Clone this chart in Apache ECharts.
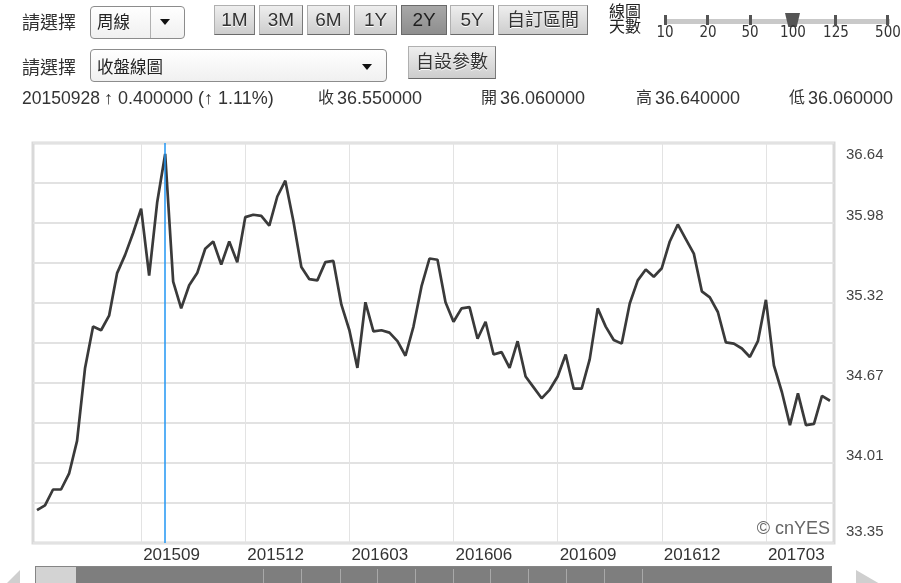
<!DOCTYPE html>
<html><head><meta charset="utf-8">
<script src="https://cdn.jsdelivr.net/npm/echarts@6/dist/echarts.min.js"></script>
<style>
html,body{margin:0;padding:0;width:901px;height:583px;overflow:hidden;background:#fff;}
body{position:relative;font-family:"Liberation Sans",Arial,"Noto Sans CJK TC",sans-serif;color:#333;}
#chart{position:absolute;left:0;top:0;width:901px;height:583px;}
.abs{position:absolute;white-space:nowrap;}
.lbl{font-size:18px;line-height:20px;color:#333;}
.sel{position:absolute;border:1px solid #8c8c8c;border-radius:4px;background:linear-gradient(#ffffff,#f0f0f0);box-sizing:border-box;}
.btn{position:absolute;box-sizing:border-box;border:1px solid #b0b0b0;border-right-color:#7a7a7a;border-bottom-color:#6a6a6a;background:linear-gradient(#eeeeee,#cdcdcd);font-size:19px;line-height:28px;height:30px;top:5px;text-align:center;color:#333;text-shadow:0 1px 0 #fff;}
.btn.cj{font-size:18px;}
.btn.on{background:linear-gradient(#a8a8a8,#8e8e8e);color:#1e1e1e;text-shadow:none;border-color:#6a6a6a;}
.tri{position:absolute;width:0;height:0;border-left:5px solid transparent;border-right:5px solid transparent;border-top:6px solid #111;}
.tk{position:absolute;top:15px;width:3px;height:10px;background:#555;}
.tl{position:absolute;top:24px;width:40px;text-align:center;font-family:"Liberation Sans Narrow","DejaVu Sans Condensed","Liberation Sans",sans-serif;font-size:15px;line-height:16px;color:#333;}
.dv{position:absolute;top:569px;width:1px;height:16px;background:#a9a9a9;}
.r3{position:absolute;top:88px;font-size:18px;line-height:20px;color:#333;white-space:nowrap;}
.r3c{position:absolute;top:88px;font-size:16px;line-height:20px;color:#333;white-space:nowrap;}
</style></head>
<body>
<div id="chart"></div>

<!-- row 1 -->
<div class="abs lbl" style="left:22px;top:13px">請選擇</div>
<div class="sel" style="left:90px;top:6px;width:95px;height:33px"></div>
<div class="abs" style="left:150px;top:7px;width:1px;height:31px;background:#b0b0b0"></div>
<div class="abs" style="left:97px;top:12px;font-size:16.5px;line-height:20px;color:#222">周線</div>
<div class="tri" style="left:160px;top:19px"></div>

<div class="btn" style="left:214px;width:41px">1M</div>
<div class="btn" style="left:259px;width:44px">3M</div>
<div class="btn" style="left:307px;width:43px">6M</div>
<div class="btn" style="left:354px;width:43px">1Y</div>
<div class="btn on" style="left:401px;width:46px">2Y</div>
<div class="btn" style="left:450px;width:44px">5Y</div>
<div class="btn cj" style="left:498px;width:90px">自訂區間</div>

<!-- slider -->
<div class="abs" style="left:609px;top:4px;font-size:16px;line-height:15px;color:#222">線圖</div>
<div class="abs" style="left:609px;top:19px;font-size:16px;line-height:15px;color:#222">天數</div>
<div class="abs" style="left:664px;top:19px;width:226px;height:5px;background:#c9c9c9"></div>
<div class="tk" style="left:664px"></div>
<div class="tk" style="left:706px"></div>
<div class="tk" style="left:749px"></div>
<div class="tk" style="left:791px"></div>
<div class="tk" style="left:834px"></div>
<div class="tk" style="left:886px"></div>
<div class="abs" style="left:785px;top:13px;width:15px;height:14px;background:#555;clip-path:polygon(0 0,100% 0,78% 100%,22% 100%)"></div>
<div class="tl" style="left:645px">10</div>
<div class="tl" style="left:688px">20</div>
<div class="tl" style="left:730px">50</div>
<div class="tl" style="left:773px">100</div>
<div class="tl" style="left:816px">125</div>
<div class="tl" style="left:868px">500</div>

<!-- row 2 -->
<div class="abs lbl" style="left:22px;top:58px">請選擇</div>
<div class="sel" style="left:90px;top:49px;width:297px;height:33px"></div>
<div class="abs" style="left:97px;top:57px;font-size:16.5px;line-height:20px;color:#222">收盤線圖</div>
<div class="tri" style="left:362px;top:64px"></div>
<div class="btn cj" style="left:408px;top:46px;width:88px;height:33px;line-height:31px">自設參數</div>

<!-- row 3 -->
<div class="r3" style="left:22px;font-size:17.5px">20150928</div>
<div class="r3" style="left:104px">↑ 0.400000 (↑ 1.11%)</div>
<div class="r3c" style="left:318px">收</div><div class="r3" style="left:337px">36.550000</div>
<div class="r3c" style="left:481px">開</div><div class="r3" style="left:500px">36.060000</div>
<div class="r3c" style="left:636px">高</div><div class="r3" style="left:655px">36.640000</div>
<div class="r3c" style="left:789px">低</div><div class="r3" style="left:808px">36.060000</div>

<!-- bottom scroller -->
<div class="abs" style="left:35px;top:566px;width:797px;height:22px;border:1px solid #858585;background:#7e7e7e;box-sizing:border-box"></div>
<div class="abs" style="left:36px;top:567px;width:40px;height:20px;background:#d3d3d3"></div>
<div class="dv" style="left:263px"></div><div class="dv" style="left:301px"></div><div class="dv" style="left:340px"></div>
<div class="dv" style="left:377px"></div><div class="dv" style="left:415px"></div><div class="dv" style="left:453px"></div>
<div class="dv" style="left:490px"></div><div class="dv" style="left:528px"></div><div class="dv" style="left:566px"></div>
<div class="dv" style="left:604px"></div><div class="dv" style="left:642px"></div>
<div class="abs" style="left:6px;top:570px;width:14px;height:28px;background:#cfcfcf;clip-path:polygon(100% 0,100% 100%,0 50%)"></div>
<div class="abs" style="left:856px;top:570px;width:24px;height:28px;background:#cfcfcf;clip-path:polygon(0 0,0 100%,100% 50%)"></div>

<script>
// ---- data ----
const dates = [
 '20150608','20150615','20150622','20150629','20150706','20150713','20150720','20150727','20150803','20150810',
 '20150817','20150824','20150831','20150907','20150914','20150921','20150928','20151005','20151012','20151019',
 '20151026','20151102','20151109','20151116','20151123','20151130','20151207','20151214','20151221','20151228',
 '20160104','20160111','20160118','20160125','20160201','20160208','20160215','20160222','20160229','20160307',
 '20160314','20160321','20160328','20160404','20160411','20160418','20160425','20160502','20160509','20160516',
 '20160523','20160530','20160606','20160613','20160620','20160627','20160704','20160711','20160718','20160725',
 '20160801','20160808','20160815','20160822','20160829','20160905','20160912','20160919','20160926','20161003',
 '20161010','20161017','20161024','20161031','20161107','20161114','20161121','20161128','20161205','20161212',
 '20161219','20161226','20170102','20170109','20170116','20170123','20170130','20170206','20170213','20170220',
 '20170227','20170306','20170313','20170320','20170327','20170403','20170410','20170417','20170424','20170501'
];
const closeValues = [
 33.62,33.66,33.79,33.79,33.92,34.19,34.79,35.13,35.10,35.22,
 35.57,35.72,35.90,36.10,35.55,36.15,36.55,35.50,35.28,35.47,
 35.57,35.77,35.83,35.64,35.83,35.66,36.03,36.05,36.04,35.96,
 36.20,36.33,36.00,35.62,35.52,35.51,35.66,35.67,35.31,35.10,
 34.79,35.33,35.09,35.10,35.08,35.01,34.89,35.13,35.46,35.69,
 35.68,35.33,35.17,35.28,35.29,35.03,35.17,34.90,34.92,34.79,
 35.01,34.72,34.63,34.54,34.61,34.72,34.90,34.62,34.62,34.86,
 35.28,35.13,35.02,34.99,35.32,35.51,35.60,35.54,35.61,35.83,
 35.97,35.85,35.73,35.42,35.37,35.25,35.00,34.99,34.95,34.88,
 35.01,35.35,34.81,34.59,34.32,34.58,34.32,34.33,34.56,34.52
];
const quarterTicks = ['20150907','20151207','20160307','20160606','20160905','20161205','20170306'];
const yMin = 33.35, yMax = 36.64, yStep = 0.329;
const markedDate = '20150928';

// ---- chart ----
const FONT = '"Liberation Sans", Arial, sans-serif';
const yIdx = v => Math.round((v - yMin) / yStep);
const isQuarter = (i, v) => quarterTicks.indexOf(v) >= 0;
const baseY = {
  type: 'value', position: 'right', min: yMin, max: yMax, interval: yStep,
  axisLine: {show: false}, axisTick: {show: false}, splitLine: {show: false}
};
const chart = echarts.init(document.getElementById('chart'), null, {renderer: 'canvas'});
chart.setOption({
  animation: false,
  grid: {left: 33, right: 67, top: 143, bottom: 40, show: true, borderColor: '#d9d9d9', borderWidth: 3},
  xAxis: {
    type: 'category', data: dates, boundaryGap: true,
    axisLine: {show: false}, axisTick: {show: false},
    axisLabel: {interval: isQuarter, formatter: v => v.slice(0, 6), align: 'left', margin: 4,
      padding: [0, 0, 0, 2], color: '#333', fontSize: 17, fontFamily: FONT},
    splitLine: {show: true, interval: isQuarter, alignWithLabel: true, lineStyle: {color: '#e3e3e3', width: 1}}
  },
  yAxis: [
    Object.assign({}, baseY, {
      splitLine: {show: true, lineStyle: {color: '#e2e2e2', width: 2}},
      axisLabel: {margin: 12, color: '#444', fontSize: 15, fontFamily: FONT, verticalAlign: 'bottom', lineHeight: 15,
        formatter: v => { const k = yIdx(v); return (k % 2 === 0 && k > 0 && k < 10) ? v.toFixed(2) : ''; }}
    }),
    Object.assign({}, baseY, {
      axisLabel: {margin: 12, color: '#444', fontSize: 15, fontFamily: FONT, verticalAlign: 'top', lineHeight: 15,
        padding: [4, 0, 0, 0], formatter: v => yIdx(v) === 10 ? v.toFixed(2) : ''}
    }),
    Object.assign({}, baseY, {
      axisLabel: {margin: 12, color: '#444', fontSize: 15, fontFamily: FONT, verticalAlign: 'bottom', lineHeight: 15,
        padding: [0, 0, 4, 0], formatter: v => yIdx(v) === 0 ? v.toFixed(2) : ''}
    })
  ],
  series: [{
    type: 'line', data: closeValues, yAxisIndex: 0, symbol: 'none', z: 3,
    lineStyle: {color: '#3a3a3a', width: 2.7},
    markLine: {silent: true, symbol: 'none', label: {show: false},
      lineStyle: {color: '#2196f3', width: 1.5, type: 'solid'}, data: [{xAxis: markedDate}]}
  }],
  graphic: [{type: 'text', x: 830, y: 529, z: 10,
    style: {text: '© cnYES', textAlign: 'right', textVerticalAlign: 'middle', fontSize: 18, fontFamily: FONT, fill: '#666'}}]
});
</script>
</body></html>
